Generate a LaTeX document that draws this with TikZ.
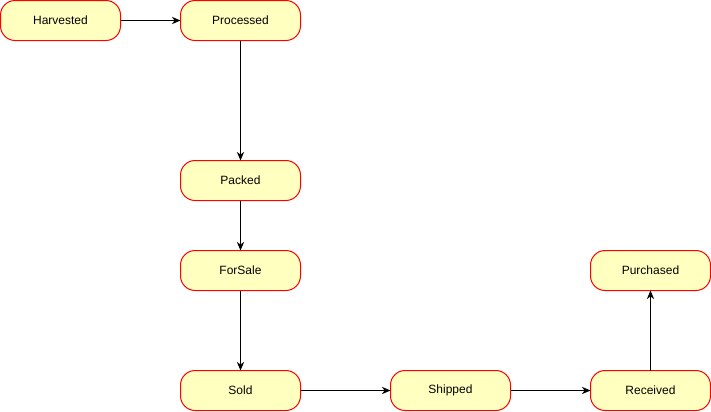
\documentclass[tikz,border=0pt]{standalone}
\usepackage{fontspec}
\setmainfont{Liberation Sans}
\usetikzlibrary{positioning,arrows.meta}
\definecolor{stRed}{RGB}{255,0,0}
\definecolor{stFill}{RGB}{255,255,192}

\begin{document}
\begin{tikzpicture}[
    node distance=45pt,
    line width=0.75pt,
    state node/.style={rectangle, rounded corners=11pt, draw=stRed, fill=stFill, line width=0.75pt, minimum width=90pt, minimum height=30pt, font=\fontsize{9}{11}\selectfont, inner sep=0pt, outer sep=0pt},
    flow/.style={-{Stealth[length=6.5pt, width=5.5pt]}, line width=0.75pt}
]
  \useasboundingbox (0,0) rectangle (533.25pt,-308.25pt);
  \node[state node] (harvested) at (45.375pt,-15.375pt) {Harvested};
  \node[state node] (processed) [right=45pt of harvested] {Processed};
  \node[state node] (packed) [below=90pt of processed] {Packed};
  \node[state node] (forsale) [below=37.5pt of packed] {ForSale};
  \node[state node] (sold) [below=60pt of forsale] {Sold};
  \node[state node] (shipped) [right=67.5pt of sold] {Shipped};
  \node[state node] (received) [right=60pt of shipped] {Received};
  \node[state node] (purchased) [above=60pt of received] {Purchased};

  \draw[flow] (harvested) -- (processed);
  \draw[flow] (processed) -- (packed);
  \draw[flow] (packed) -- (forsale);
  \draw[flow] (forsale) -- (sold);
  \draw[flow] (sold) -- (shipped);
  \draw[flow] (shipped) -- (received);
  \draw[flow] (received) -- (purchased);
\end{tikzpicture}
\end{document}
